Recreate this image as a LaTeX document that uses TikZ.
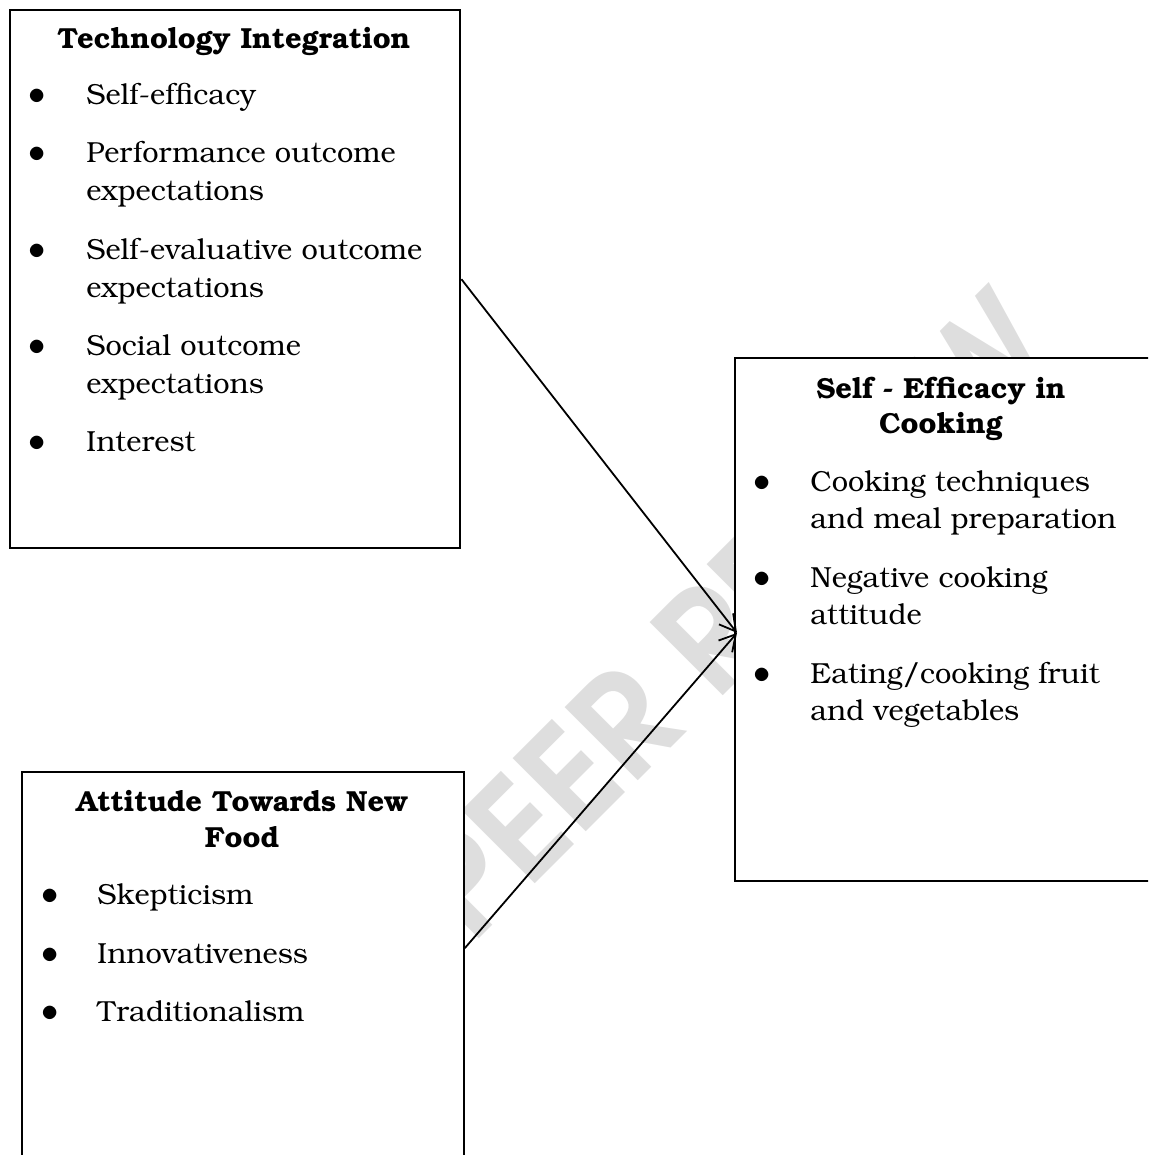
\documentclass[tikz,border=0pt]{standalone}
\usepackage[T1]{fontenc}
\usepackage{bookman}
\usetikzlibrary{arrows.meta}
\usetikzlibrary{calc}

\tikzset{box/.style={draw, fill=white, line width=0.9pt, anchor=north west, inner sep=0pt}}
\tikzset{itm/.style={anchor=base west, inner sep=0pt, font=\fontsize{14.5}{18}\selectfont}}
\tikzset{bul/.style={anchor=base, inner sep=0pt, font=\fontsize{18}{18}\selectfont}}
\tikzset{ttl/.style={anchor=base, inner sep=0pt, font=\fontsize{14.5}{18}\selectfont\bfseries}}
\tikzset{link/.style={line width=0.9pt, -{Straight Barb[length=8pt, width=9pt]}}}
\tikzset{wmark/.style={text=black!13, inner sep=0pt, rotate=45, font=\fontsize{70}{70}\selectfont\sffamily\bfseries}}

\begin{document}
\begin{tikzpicture}[x=0.5pt, y=-0.5pt]

\useasboundingbox (0,0) rectangle (1148,1155);
\clip (0,0) rectangle (1148,1155);

% watermark
\node[wmark] (peer) at (732,615) {PEER REVIEW};

% boxes
\node[box, line width=1.2pt, minimum width=225pt, minimum height=269pt] (tech) at (9,9) {};
\node[box, minimum width=207.5pt, minimum height=261.5pt] (eff) at (734,357) {};
\node[box, minimum width=221pt, minimum height=210pt] (att) at (21,771) {};

%Technology Integration
\node[ttl] (techT) at (234,49) {Technology Integration};
\node[bul] (tb1) at (37,105) {$\bullet$};
\node[itm] (ta1) at (86,105) {Self-efficacy};
\node[bul] (tb2) at (37,163) {$\bullet$};
\node[itm] (ta2) at (86,163) {Performance outcome};
\node[itm] (ta2b) at (86,201) {expectations};
\node[bul] (tb3) at (37,259) {$\bullet$};
\node[itm] (ta3) at (86,259) {Self-evaluative outcome};
\node[itm] (ta3b) at (86,297) {expectations};
\node[bul] (tb4) at (37,355) {$\bullet$};
\node[itm] (ta4) at (86,355) {Social outcome};
\node[itm] (ta4b) at (86,393) {expectations};
\node[bul] (tb5) at (37,451) {$\bullet$};
\node[itm] (ta5) at (86,451) {Interest};

%Self - Efficacy in Cooking
\node[ttl] (effT) at (941,398) {Self - Efficacy in};
\node[ttl] (effTb) at (941,433) {Cooking};
\node[bul] (eb1) at (762,491) {$\bullet$};
\node[itm] (ea1) at (810,491) {Cooking techniques};
\node[itm] (ea1b) at (810,528) {and meal preparation};
\node[bul] (eb2) at (762,587) {$\bullet$};
\node[itm] (ea2) at (810,587) {Negative cooking};
\node[itm] (ea2b) at (810,624) {attitude};
\node[bul] (eb3) at (762,683) {$\bullet$};
\node[itm] (ea3) at (810,683) {Eating/cooking fruit};
\node[itm] (ea3b) at (810,720) {and vegetables};

%Attitude Towards New Food
\node[ttl] (attT) at (242,811) {Attitude Towards New};
\node[ttl] (attTb) at (242,847) {Food};
\node[bul] (ab1) at (50,904) {$\bullet$};
\node[itm] (aa1) at (97,904) {Skepticism};
\node[bul] (ab2) at (50,963) {$\bullet$};
\node[itm] (aa2) at (97,963) {Innovativeness};
\node[bul] (ab3) at (50,1021) {$\bullet$};
\node[itm] (aa3) at (97,1021) {Traditionalism};

% arrows
\coordinate (meet) at ($(eff.west)+(3,13.5)$);
\coordinate (attout) at ($(att.north east)!0.42!(att.south east)$);
\draw[link] (tech.east) -- (meet);
\draw[link] (attout) -- (meet);

\end{tikzpicture}
\end{document}
